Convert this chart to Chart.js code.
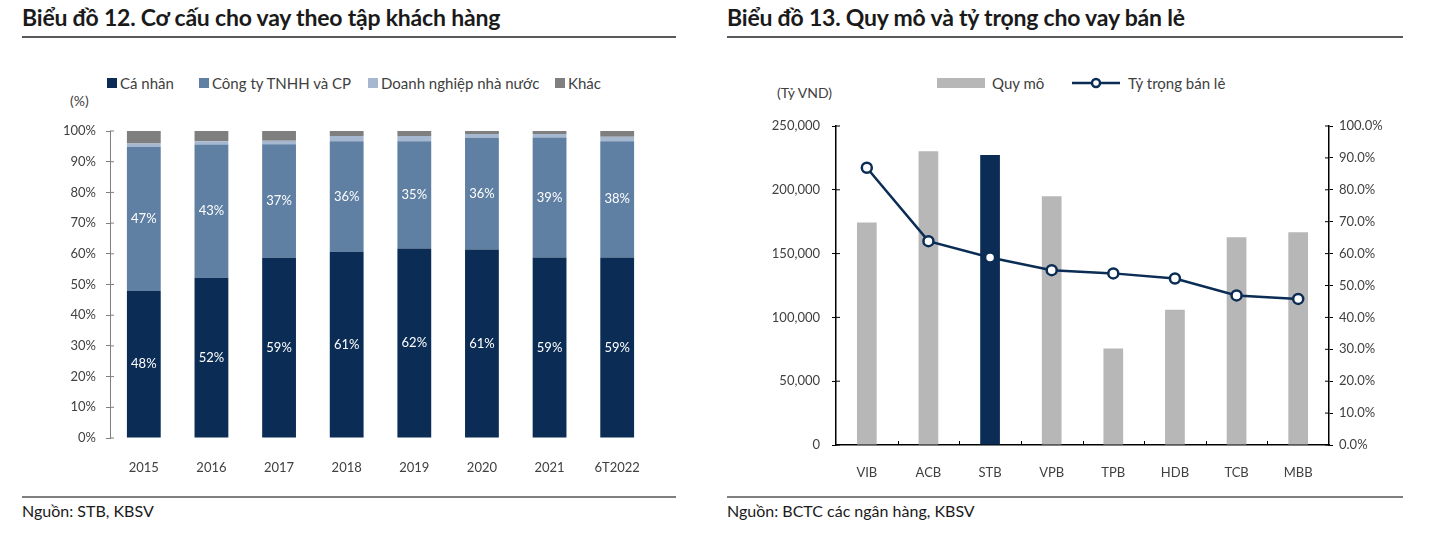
<!DOCTYPE html>
<html>
<head>
<meta charset="utf-8">
<script src="https://cdn.jsdelivr.net/npm/chart.js@4.4.0/dist/chart.umd.min.js"></script>
<style>
  body { margin: 0; background: #fff; font-family: Lato, "Noto Sans", sans-serif; color: #262626; }
  .page { position: relative; width: 1429px; height: 541px; }
  .title { position: absolute; top: 3px; font-size: 23px; font-weight: bold; color: #1a1a1a; letter-spacing: -0.2px; }
  .rule { position: absolute; height: 2px; background: #595959; }
  .src { position: absolute; top: 501px; font-size: 16px; color: #1a1a1a; }
  .box { position: absolute; }
  .unit { position: absolute; font-size: 14px; color: #404040; }
  .lg { position: absolute; top: 74px; font-size: 15px; color: #404040; white-space: nowrap; display: flex; align-items: center; }
  .sw { display: inline-block; width: 10px; height: 10px; margin-right: 3px; }
</style>
</head>
<body>
<div class="page">
  <div class="title" style="left:22px">Biểu đồ 12. Cơ cấu cho vay theo tập khách hàng</div>
  <div class="rule" style="left:22px; width:654px; top:36px"></div>
  <div class="rule" style="left:22px; width:654px; top:496px; background:#7f7f7f"></div>
  <div class="src" style="left:22px">Nguồn: STB, KBSV</div>

  <div class="title" style="left:727px">Biểu đồ 13. Quy mô và tỷ trọng cho vay bán lẻ</div>
  <div class="rule" style="left:727px; width:676px; top:36px"></div>
  <div class="rule" style="left:727px; width:676px; top:496px; background:#7f7f7f"></div>
  <div class="src" style="left:727px">Nguồn: BCTC các ngân hàng, KBSV</div>

  <!-- left legend -->
  <div class="lg" style="left:107px"><span class="sw" style="background:#0b2d55"></span>Cá nhân</div>
  <div class="lg" style="left:199px"><span class="sw" style="background:#5f7fa3"></span>Công ty TNHH và CP</div>
  <div class="lg" style="left:368px"><span class="sw" style="background:#a5b8d0"></span>Doanh nghiệp nhà nước</div>
  <div class="lg" style="left:555px"><span class="sw" style="background:#7f7f7f"></span>Khác</div>
  <div class="unit" style="left:70px; top:92px">(%)</div>

  <!-- right legend -->
  <div class="lg" style="left:937px"><span style="display:inline-block;width:48px;height:10px;background:#b7b7b7;margin-right:7px"></span>Quy mô</div>
  <div class="lg" style="left:1072px">
    <svg width="50" height="12" style="margin-right:6px"><line x1="0" y1="6" x2="48" y2="6" stroke="#0b2d55" stroke-width="2.5"/><circle cx="24" cy="6" r="4" fill="#fff" stroke="#0b2d55" stroke-width="2.5"/></svg>Tỷ trọng bán lẻ</div>
  <div class="unit" style="left:777px; top:84px">(Tỷ VND)</div>

  <div class="box" style="left:22px; top:60px; width:653px; height:420px"><canvas id="c1"></canvas></div>
  <div class="box" style="left:727px; top:60px; width:676px; height:420px"><canvas id="c2"></canvas></div>
</div>

<script>
// ---- Biểu đồ 12 data ----
const years = ['2015', '2016', '2017', '2018', '2019', '2020', '2021', '6T2022'];
const caNhan = [47.9, 52.2, 58.7, 60.7, 61.7, 61.4, 58.8, 58.8];
const congTy = [47.0, 43.4, 37.0, 36.0, 35.0, 36.4, 39.1, 37.9];
const dnnn   = [1.0, 1.1, 1.1, 1.7, 1.7, 1.2, 1.1, 1.4];
const khac   = [4.1, 3.3, 3.2, 1.6, 1.6, 1.0, 1.0, 1.9];
const pctTicks = [0, 10, 20, 30, 40, 50, 60, 70, 80, 90, 100];

// ---- Biểu đồ 13 data ----
const banks = ['VIB', 'ACB', 'STB', 'VPB', 'TPB', 'HDB', 'TCB', 'MBB'];
const quyMo = [174300, 230300, 227200, 195000, 75700, 106000, 162800, 166700];
const tyTrong = [86.9, 63.9, 58.8, 54.8, 53.8, 52.2, 46.9, 45.8];

const NAVY = '#0b2d55';
const tickFont = { family: 'Lato, "Noto Sans", sans-serif', size: 13 };

// ticks that cross the axis line (draws the inward half)
const crossTicks = {
  id: 'crossTicks',
  afterDraw(chart, args, opts) {
    const ctx = chart.ctx;
    ctx.save();
    ctx.strokeStyle = opts.color || '#000';
    ctx.lineWidth = 1;
    (opts.axes || []).forEach(id => {
      const s = chart.scales[id];
      ctx.beginPath();
      if (s.axis === 'y') {
        const x = s.position === 'left' ? s.right : s.left;
        const d = s.position === 'left' ? 1 : -1;
        s.ticks.forEach((t, i) => {
          const y = s.getPixelForTick(i);
          ctx.moveTo(x, y); ctx.lineTo(x + d * 4, y);
        });
      } else {
        const n = s.ticks.length;
        const step = (s.right - s.left) / n;
        for (let i = 1; i < n; i++) {
          const x = Math.round(s.left + i * step) + 0.5;
          ctx.moveTo(x, s.top); ctx.lineTo(x, s.top - 4);
        }
      }
      ctx.stroke();
    });
    ctx.restore();
  }
};

// percent labels inside stacked bars
const barLabels = {
  id: 'barLabels',
  afterDatasetsDraw(chart, args, opts) {
    if (!opts.datasets) return;
    const ctx = chart.ctx;
    ctx.save();
    ctx.fillStyle = '#fff';
    ctx.font = '13px Lato, "Noto Sans", sans-serif';
    ctx.textAlign = 'center';
    ctx.textBaseline = 'middle';
    opts.datasets.forEach(di => {
      const meta = chart.getDatasetMeta(di);
      meta.data.forEach((el, i) => {
        const v = chart.data.datasets[di].data[i];
        ctx.fillText(Math.round(v) + '%', el.x, (el.y + el.base) / 2);
      });
    });
    ctx.restore();
  }
};

new Chart(document.getElementById('c1'), {
  type: 'bar',
  plugins: [crossTicks, barLabels],
  data: {
    labels: years,
    datasets: [
      { label: 'Cá nhân', data: caNhan, backgroundColor: NAVY },
      { label: 'Công ty TNHH và CP', data: congTy, backgroundColor: '#5f7fa3' },
      { label: 'Doanh nghiệp nhà nước', data: dnnn, backgroundColor: '#a5b8d0' },
      { label: 'Khác', data: khac, backgroundColor: '#7f7f7f' }
    ]
  },
  options: {
    responsive: true,
    maintainAspectRatio: false,
    animation: false,
    layout: { padding: { top: 71, right: 24, left: 0, bottom: 0 } },
    datasets: { bar: { barPercentage: 0.5, categoryPercentage: 1 } },
    plugins: {
      legend: { display: false },
      tooltip: { enabled: false },
      crossTicks: { axes: ['y'], color: '#7f7f7f' },
      barLabels: { datasets: [0, 1] }
    },
    scales: {
      x: {
        stacked: true,
        border: { display: false },
        grid: { display: false },
        ticks: { color: '#404040', font: tickFont, padding: 14 },
        afterFit(s) { s.height = 42; }
      },
      y: {
        stacked: true,
        min: 0, max: 100,
        afterBuildTicks(s) { s.ticks = pctTicks.map(v => ({ value: v })); },
        border: { display: true, color: '#7f7f7f' },
        grid: { drawOnChartArea: false, tickLength: 4, color: '#7f7f7f' },
        ticks: { color: '#404040', font: tickFont, padding: 10, callback: v => v + '%' },
        afterFit(s) { s.width = 88; }
      }
    }
  }
});

new Chart(document.getElementById('c2'), {
  type: 'bar',
  plugins: [crossTicks],
  data: {
    labels: banks,
    datasets: [
      {
        type: 'line', label: 'Tỷ trọng bán lẻ', data: tyTrong, yAxisID: 'y1',
        borderColor: NAVY, borderWidth: 2.5, pointRadius: 5, pointBorderWidth: 2.5,
        pointBackgroundColor: '#fff', pointBorderColor: NAVY, tension: 0, order: 0
      },
      {
        label: 'Quy mô', data: quyMo, yAxisID: 'y', order: 1,
        backgroundColor: banks.map(b => b === 'STB' ? NAVY : '#b7b7b7'),
        barPercentage: 0.32, categoryPercentage: 1
      }
    ]
  },
  options: {
    responsive: true,
    maintainAspectRatio: false,
    animation: false,
    layout: { padding: { top: 66, right: 0, left: 0, bottom: 0 } },
    plugins: {
      legend: { display: false },
      tooltip: { enabled: false },
      crossTicks: { axes: ['y', 'y1', 'x'], color: '#000' }
    },
    scales: {
      x: {
        border: { display: true, color: '#000', width: 1.5 },
        grid: { display: false },
        ticks: { color: '#404040', font: tickFont, padding: 12 },
        afterFit(s) { s.height = 35; }
      },
      y: {
        position: 'left',
        min: 0, max: 250000,
        ticks: { stepSize: 50000, color: '#404040', font: tickFont, padding: 12,
          callback: v => v.toLocaleString('en-US') },
        border: { display: true, color: '#000', width: 1.5 },
        grid: { drawOnChartArea: false, tickLength: 4, color: '#000' },
        afterFit(s) { s.width = 109; }
      },
      y1: {
        position: 'right',
        min: 0, max: 100,
        ticks: { stepSize: 10, color: '#404040', font: tickFont, padding: 6,
          callback: v => v.toFixed(1) + '%' },
        border: { display: true, color: '#000', width: 1.5 },
        grid: { drawOnChartArea: false, tickLength: 4, color: '#000' },
        afterFit(s) { s.width = 74; }
      }
    }
  }
});
</script>
</body>
</html>
